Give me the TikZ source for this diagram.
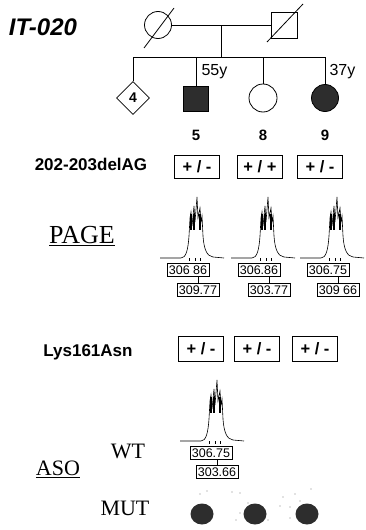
\documentclass[tikz,border=0pt]{standalone}
\usepackage{fontspec}
\setmainfont{Liberation Serif}
\setsansfont{Liberation Sans}
\usepackage{tikz}
\usetikzlibrary{calc,positioning,shapes.geometric}
\definecolor{aff}{RGB}{45,45,45}
\newcommand{\fs}[1]{\fontsize{#1}{#1}\selectfont}

\begin{document}
\begin{tikzpicture}[x=1pt,y=-1pt,
  person/.style={draw,thick,inner sep=0pt},
  gbox/.style={draw,thick,minimum width=45,minimum height=23,inner sep=0pt,font=\sffamily\bfseries\fs{16.5}},
  mz/.style={draw,semithick,inner sep=1.8pt,font=\sffamily\fs{12.5}},
  lbl/.style={font=\sffamily\bfseries\fs{17}},
  ser/.style={font=\fs{22}},
  peak/.pic={
    \draw[line width=0.6pt] (-37,0) -- (-16,0) .. controls (-11,0) and (-9,-8) .. (-8,-22) -- (-7,-40) -- (-6,-46) -- (-5,-32) -- (-3,-52) -- (-2,-36) -- (0,-61) -- (1,-40) -- (3,-50) -- (4,-36) -- (5,-42) -- (6,-22) .. controls (7,-8) and (10,-2) .. (16,-1) -- (27,0);
    \foreach \t in {-6,-3,3} \draw[line width=1.4pt] (\t,-44) -- (\t,-28);
    \foreach \t in {-8,-2,3} \draw (\t,0) -- (\t,3);
  }]
\useasboundingbox (0,0) rectangle (366,530);

\node[font=\sffamily\bfseries\itshape\fs{24}] (title) at (43,27) {IT-020};

% pedigree
\node[person,circle,minimum size=27] (mom) at (158,25) {};
\node[person,minimum size=26] (dad) at (284,25) {};
\draw[thick] ($(mom)+(16,-17)$) -- ($(mom)+(-14,23)$);
\draw[thick] ($(dad)+(19,-21)$) -- ($(dad)+(-17,17)$);
\draw[thick] (mom) -- (dad);
\draw[thick] ($(mom.center)!0.5!(dad.center)$) -- ++(0,32) coordinate (sib);

\node[person,diamond,minimum size=33,font=\sffamily\bfseries\fs{14}] (c4) at (133,98) {4};
\node[person,fill=aff,minimum size=25] (c5) at (196,99) {};
\node[person,circle,minimum size=28] (c8) at (263,98) {};
\node[person,circle,fill=aff,minimum size=27] (c9) at (325,98) {};
\draw[thick] (c4 |- sib) -- (c9 |- sib);
\foreach \c in {c4,c5,c8,c9} \draw[thick] (\c |- sib) -- (\c);

\node[font=\sffamily\fs{16},anchor=west] (age5) at (198,72) {55y};
\node[font=\sffamily\fs{16},anchor=west] (age9) at (326,72) {37y};

\coordinate (numrow) at (0,135);
\foreach \c/\n in {c5/5,c8/8,c9/9}
  \node[font=\sffamily\bfseries\fs{15}] (n\n) at (\c |- numrow) {\n};

% 202-203delAG
\node[lbl] (delAG) at (91,164) {202-203delAG};
\foreach \x/\a/\b [count=\i] in {197/+/-, 260/+/+, 320/+/-}
  \node[gbox] (d\i) at (\x,167) {\a\ / \b};

\node[ser,font=\fs{26}] (page) at (82,236) {\underline{PAGE}};
\foreach \x/\la/\lb [count=\i] in {197/306 86/309.77, 268/306.86/303.77, 337/306.75/309 66} {
  \pic at (\x,258) {peak};
  \node[mz] (pa\i) at (\x-9,270) {\la};
  \node[mz] (pb\i) at (\x+1,290) {\lb};
  \draw (pa\i.south -| pb\i.north) -- (pb\i.north);
}

% Lys161Asn
\node[lbl] (lys) at (88,352) {Lys161Asn};
\foreach \x [count=\i] in {201,257,315}
  \node[gbox,minimum height=25] (k\i) at (\x,349) {+\ / -};

\node[ser] (wt) at (128,451) {WT};
\node[ser] (aso) at (58,469) {\underline{ASO}};
\node[ser] (mut) at (125,508) {MUT};
\pic at (217,441) {peak};
\node[mz] (wa) at (211,453) {306.75};
\node[mz] (wb) at (217,472) {303.66};
\draw (wa.south -| wb.north) -- (wb.north);

\foreach \x [count=\i] in {202,255,307}
  \fill[aff] (\x,514) ellipse (11.5 and 10.5);
\foreach \p in {(200,494),(207,491),(232,492),(240,493),(248,503),(240,513),(236,520),(268,520),(280,506),(290,507),(290,518),(283,497),(295,494),(300,501),(311,489)}
  \fill[gray] \p circle (0.6);
\end{tikzpicture}
\end{document}
